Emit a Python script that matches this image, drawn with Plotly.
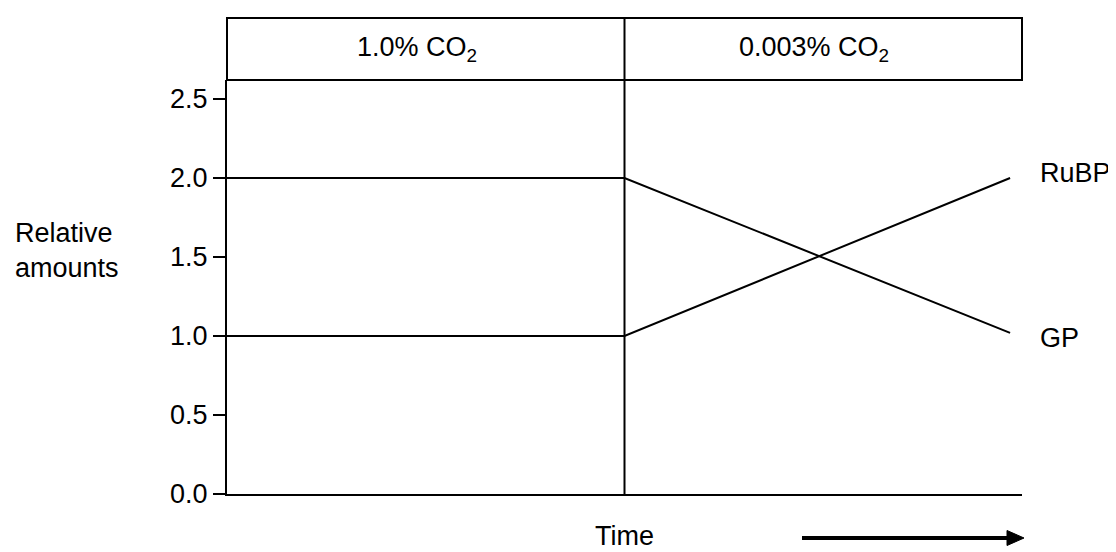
import plotly.graph_objects as go

# ---- data ----
time = [0, 5, 9.85]
rubp = [1.0, 1.0, 2.0]
gp = [2.0, 2.0, 1.02]
series_names = ["RuBP", "GP"]
label_y = [2.03, 0.985]
region_bounds = [0, 5, 10]
region_labels = ["1.0% CO<sub>2</sub>", "0.003% CO<sub>2</sub>"]
y_ticks = [0.0, 0.5, 1.0, 1.5, 2.0, 2.5]
y_title = "Relative<br>amounts"
x_title = "Time"

# page body has an 8px margin; compensate so the plot lands where the reference has it
OFF = 8
W, H = 1116 - OFF, 552 - OFF
L, T = 227 - OFF, 80 - OFF
plot_w = 795
plot_h = 414
R = W - L - plot_w
B = H - T - plot_h
box_h = 62
y_top = 1 + box_h / plot_h

FONT = "Liberation Sans, Arial, sans-serif"
FS = 27


def px(xp):
    return (xp - 227) / plot_w


def py(yp):
    return (494 - yp) / plot_h


fig = go.Figure()
for name, ys in zip(series_names, [rubp, gp]):
    fig.add_trace(go.Scatter(x=time, y=ys, mode="lines", name=name,
                             line=dict(color="black", width=2),
                             showlegend=False, hoverinfo="skip"))

# end labels
for name, ly in zip(series_names, label_y):
    fig.add_annotation(x=10, y=ly, xref="x", yref="y", text=name,
                       showarrow=False, xanchor="left", yanchor="middle",
                       xshift=16, font=dict(size=FS, color="black", family=FONT))

# header box
fig.add_shape(type="rect", xref="paper", yref="paper", x0=0, x1=1, y0=1, y1=y_top,
              line=dict(color="black", width=2), fillcolor="rgba(0,0,0,0)")
# divider line
fig.add_shape(type="line", xref="x", yref="paper", x0=region_bounds[1], x1=region_bounds[1],
              y0=0, y1=y_top, line=dict(color="black", width=2))

for i, lab in enumerate(region_labels):
    mid = (region_bounds[i] + region_bounds[i + 1]) / 2
    fig.add_annotation(x=mid, y=(1 + y_top) / 2, xref="x", yref="paper", text=lab,
                       showarrow=False, xanchor="center", yanchor="middle", xshift=-9, yshift=0,
                       font=dict(size=FS, color="black", family=FONT))

# y title
fig.add_annotation(x=px(13), y=py(250), xref="paper", yref="paper",
                   text=y_title, showarrow=False, xanchor="left", yanchor="middle", align="left",
                   font=dict(size=FS, color="black", family=FONT))
# x title
fig.add_annotation(x=region_bounds[1], y=py(552), xref="x", yref="paper",
                   text=x_title, showarrow=False, xanchor="center", yanchor="bottom",
                   borderpad=0,
                   font=dict(size=FS, color="black", family=FONT))

# arrow
fig.add_shape(type="line", xref="paper", yref="paper", x0=px(802), x1=px(1010),
              y0=py(538), y1=py(538), line=dict(color="black", width=4))
fig.add_shape(type="path", xref="paper", yref="paper",
              path=f"M {px(1007)},{py(530.5)} L {px(1024)},{py(538)} L {px(1007)},{py(545.5)} Z",
              fillcolor="black", line=dict(color="black", width=1))

fig.update_xaxes(range=[0, 10], showline=True, linecolor="black", linewidth=2,
                 showticklabels=False, ticks="", showgrid=False, zeroline=False)
fig.update_yaxes(range=[0, 2.62], tickvals=y_ticks, ticktext=[f"{v:.1f}" for v in y_ticks],
                 showline=True, linecolor="black", linewidth=2, ticks="outside",
                 ticklen=12, tickwidth=2, tickcolor="black", showgrid=False, zeroline=False,
                 tickfont=dict(size=FS, color="black", family=FONT))

fig.update_layout(width=W, height=H, margin=dict(l=L, r=R, t=T, b=B),
                  plot_bgcolor="white", paper_bgcolor="white",
                  font=dict(family=FONT, color="black", size=FS))

fig.write_html("out.html")
